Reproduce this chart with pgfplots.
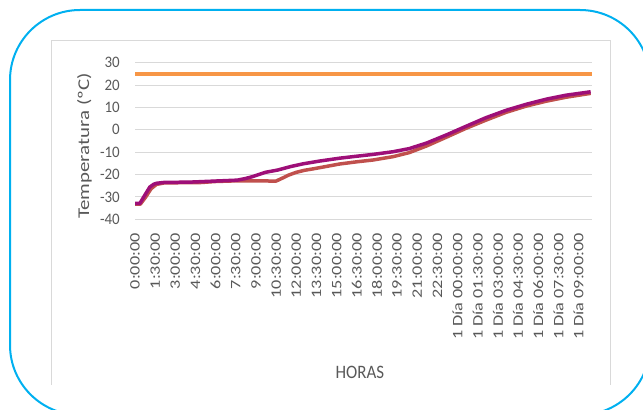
\documentclass[border=0pt]{standalone}
\usepackage{fontspec}
\setmainfont{Carlito}
\usepackage{pgfplots}
\pgfplotsset{compat=1.18}
\definecolor{txt}{HTML}{595959}
\definecolor{grid}{HTML}{D9D9D9}
\definecolor{cyanb}{HTML}{00B0F0}
\definecolor{orangeS}{HTML}{F79646}
\definecolor{redS}{HTML}{C0504D}
\definecolor{purpS}{HTML}{9E0F78}
\begin{document}
\begin{tikzpicture}
\path[use as bounding box] (0,0) rectangle (643bp,410bp);
\begin{scope}
\clip (0,0) rectangle (643bp,410bp);
\draw[cyanb, line width=2bp, rounded corners=70bp] (10bp,-5bp) rectangle (650bp,400bp);
\end{scope}
\draw[grid, line width=1bp] (51bp,25bp) -- (51bp,369.3bp) -- (610bp,369.3bp) -- (610bp,25bp);
\begin{axis}[
  at={(135bp,190.7bp)}, anchor=south west,
  scale only axis, width=457bp, height=156.6bp,
  xmin=0, xmax=34, ymin=-40, ymax=30,
  axis line style={draw=none},
  major tick length=0pt,
  xtick style={draw=none}, ytick style={draw=none},
  ytick={-40,-30,...,30},
  xmajorgrids=false, ymajorgrids=true,
  y grid style={grid, line width=1bp},
  xtick={0,1.5,...,33},
  xticklabels={0:00:00,1:30:00,3:00:00,4:30:00,6:00:00,7:30:00,9:00:00,10:30:00,12:00:00,13:30:00,15:00:00,16:30:00,18:00:00,19:30:00,21:00:00,22:30:00,1 Día 00:00:00,1 Día 01:30:00,1 Día 03:00:00,1 Día 04:30:00,1 Día 06:00:00,1 Día 07:30:00,1 Día 09:00:00},
  /pgf/number format/assume math mode=true,
  yticklabel style={font=\fontsize{15}{18}\selectfont, text=txt, anchor=east, inner sep=0pt, xshift=-15bp, yscale=1.07},
  xticklabel style={font=\fontsize{14.5}{17}\selectfont, text=txt, yshift=-13.7bp, rotate=90, xscale=1.26, anchor=east, inner sep=0pt},
  xlabel={HORAS},
  xlabel style={at={(axis description cs:0.492,-0.980)}, anchor=center, font=\fontsize{17}{20}\selectfont, text=txt, yscale=1.12},
  ylabel={Temperatura (ºC)},
  ylabel style={at={(axis description cs:-0.1105,0.468)}, anchor=center, font=\fontsize{16.5}{20}\selectfont, text=txt, xscale=1.27},
  clip=false,
]
\addplot[orangeS, line width=3.5bp] coordinates {(0,25) (34,25)};
\addplot[redS, line width=3.5bp, line join=round] coordinates {
(0,-33.2) (0.4,-33.2) (0.8,-30) (1.2,-26.3) (1.6,-24.4) (2.2,-23.7) (4.8,-23.6) (6.0,-23.1) (7.6,-22.8) (10.5,-22.9) (11.0,-21.5) (11.4,-20.3) (12.0,-19.0) (12.6,-18.1) (13.3,-17.4) (14.3,-16.3) (15.2,-15.3) (16.5,-14.3) (17.7,-13.5) (19.2,-12.0) (20.4,-10.2) (21.7,-7.2) (23.2,-3.2) (24.6,0.6) (26.1,4.3) (27.6,7.8) (29.1,10.6) (30.6,12.8) (32.1,14.6) (33.9,16.3)
};
\addplot[purpS, line width=3.5bp, line join=round] coordinates {
(0,-32.9) (0.36,-32.9) (0.7,-29.5) (1.1,-25.6) (1.4,-24.3) (1.6,-23.9) (2.2,-23.5) (4.0,-23.4) (4.8,-23.2) (6.0,-22.9) (7.6,-22.5) (8.2,-21.8) (8.7,-21.0) (9.2,-20.0) (9.7,-19.0) (10.6,-18.0) (11.6,-16.4) (12.5,-15.2) (13.7,-14.0) (15.2,-12.7) (16.5,-11.8) (17.7,-11.0) (19.2,-9.8) (20.4,-8.4) (21.7,-5.9) (23.2,-2.2) (24.6,1.5) (26.1,5.4) (27.6,8.7) (29.1,11.4) (30.6,13.7) (32.1,15.5) (33.9,17.0)
};
\end{axis}
\end{tikzpicture}
\end{document}
